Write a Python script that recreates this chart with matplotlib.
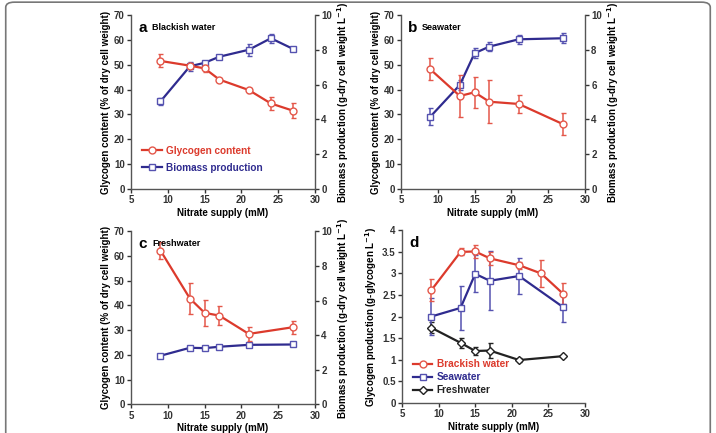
import numpy as np
import matplotlib
matplotlib.use("Agg")
import matplotlib.pyplot as plt
from matplotlib.patches import FancyBboxPatch
from matplotlib.lines import Line2D

plt.rcParams['font.family'] = ['Liberation Sans', 'DejaVu Sans']
plt.rcParams['font.weight'] = 'bold'
plt.rcParams['axes.labelweight'] = 'bold'

# panel a - brackish water
xa = [9, 13, 15, 17, 21, 24, 27]
gly_a = [51.5, 49.6, 48.5, 44.0, 39.8, 34.4, 31.5]
gly_a_err = [2.6, 1.0, 1.3, 0.5, 1.0, 2.8, 3.0]
bio_a = [5.03, 7.05, 7.25, 7.6, 8.0, 8.66, 8.05]
bio_a_err = [0.2, 0.25, 0.1, 0.1, 0.35, 0.27, 0.05]

# panel b - seawater
xb = [9, 13, 15, 17, 21, 27]
gly_b = [48.1, 37.4, 38.9, 35.1, 34.2, 26.1]
gly_b_err = [4.4, 8.5, 6.3, 8.7, 3.5, 4.5]
bio_b = [4.16, 5.98, 7.8, 8.18, 8.6, 8.66]
bio_b_err = [0.47, 0.3, 0.3, 0.25, 0.25, 0.3]

# panel c - freshwater
xc = [9, 13, 15, 17, 21, 27]
gly_c = [62.2, 42.8, 37.0, 35.9, 28.5, 31.2]
gly_c_err = [3.6, 6.2, 5.3, 3.7, 2.7, 2.7]
bio_c = [2.81, 3.27, 3.25, 3.33, 3.44, 3.46]
bio_c_err = [0.05, 0.12, 0.12, 0.12, 0.05, 0.05]

# panel d - glycogen production
xd_brack = [9, 13, 15, 17, 21, 24, 27]
prod_brack = [2.61, 3.5, 3.51, 3.35, 3.19, 3.0, 2.53]
prod_brack_err = [0.25, 0.08, 0.16, 0.15, 0.08, 0.31, 0.25]
xd_sea = [9, 13, 15, 17, 21, 27]
prod_sea = [2.0, 2.2, 2.99, 2.83, 2.94, 2.22]
prod_sea_err = [0.42, 0.51, 0.43, 0.68, 0.41, 0.34]
xd_fresh = [9, 13, 15, 17, 21, 27]
prod_fresh = [1.74, 1.39, 1.2, 1.21, 0.99, 1.08]
prod_fresh_err = [0.13, 0.12, 0.1, 0.17, 0.04, 0.02]

RED = '#dc3a2c'
RED_E = '#e4574a'
BLUE = '#2f2b8f'
BLUE_E = '#5552b0'
BLACK = '#222222'
SPINE = '#555555'
TFS = 7

fig = plt.figure(figsize=(7.16, 4.33), dpi=100)

# frame line at top of figure
frame = FancyBboxPatch((0.008, -0.2), 0.984, 1.195, boxstyle="round,pad=0,rounding_size=0.012",
                       transform=fig.transFigure, fill=False, edgecolor='#777777', linewidth=1.2)
fig.patches.append(frame)


def style_ax(ax, right=False):
    ax.spines['top'].set_visible(False)
    if not right:
        ax.spines['right'].set_visible(False)
    for s in ['left', 'bottom', 'right']:
        ax.spines[s].set_color(SPINE)
        ax.spines[s].set_linewidth(1.0)
    ax.tick_params(direction='out', length=3, width=1, colors='#333333', labelsize=TFS, pad=1.5)
    for lab in ax.get_xticklabels() + ax.get_yticklabels():
        lab.set_fontweight('bold')


def series(ax, x, y, err, color, marker, ecolor=None, ms=5):
    ax.errorbar(x, y, yerr=err, color=color, ecolor=ecolor or color, elinewidth=1.1, capsize=1.8,
                capthick=1.1, marker=marker, markersize=ms, markerfacecolor='white',
                markeredgecolor=ecolor or color, markeredgewidth=1.0, linewidth=1.6,
                clip_on=False, zorder=3)


def handle(color, marker, ecolor=None, ms=5):
    return Line2D([], [], color=color, marker=marker, markersize=ms, markerfacecolor='white',
                  markeredgecolor=ecolor or color, markeredgewidth=1.0, linewidth=1.6)


def content_panel(rect, x, gly, gly_err, bio, bio_err, letter, name, legend=False):
    ax = fig.add_axes(rect)
    ax2 = ax.twinx()
    ax.set_zorder(ax2.get_zorder() + 1)
    ax.patch.set_visible(False)
    series(ax2, x, bio, bio_err, BLUE, 's', ecolor=BLUE_E)
    series(ax, x, gly, gly_err, RED, 'o', ecolor=RED_E)
    ax.set_xlim(5, 30)
    ax.set_ylim(0, 70)
    ax2.set_ylim(0, 10)
    ax.set_xticks([5, 10, 15, 20, 25, 30])
    ax.set_yticks(range(0, 71, 10))
    ax2.set_yticks(range(0, 11, 2))
    ax.set_xlabel('Nitrate supply (mM)', fontsize=TFS, labelpad=2)
    ax.set_ylabel('Glycogen content (% of dry cell weight)', fontsize=TFS, labelpad=2)
    ax2.set_ylabel('Biomass production (g-dry cell weight L$^{\\mathbf{-1}}$)', fontsize=TFS, labelpad=2)
    style_ax(ax)
    style_ax(ax2, right=True)
    ax2.spines['left'].set_visible(False)
    ax2.spines['bottom'].set_visible(False)
    ax.text(0.04, 0.965, letter, transform=ax.transAxes, fontsize=11, fontweight='bold', va='top')
    ax.text(0.115, 0.955, name, transform=ax.transAxes, fontsize=6.5, fontweight='bold', va='top')
    if legend:
        hs = [handle(RED, 'o', RED_E), handle(BLUE, 's', BLUE_E)]
        leg = ax.legend(hs, ['Glycogen content', 'Biomass production'], loc='lower left',
                        bbox_to_anchor=(0.04, 0.07), frameon=False, fontsize=7.2,
                        handlelength=2.0, handletextpad=0.4, labelspacing=0.7, borderaxespad=0)
        for t, c in zip(leg.get_texts(), [RED, BLUE]):
            t.set_color(c)
    return ax


content_panel([0.183, 0.5635, 0.257, 0.402], xa, gly_a, gly_a_err, bio_a, bio_a_err,
              'a', 'Blackish water', legend=True)
content_panel([0.560, 0.5635, 0.257, 0.402], xb, gly_b, gly_b_err, bio_b, bio_b_err,
              'b', 'Seawater')
content_panel([0.183, 0.066, 0.257, 0.400], xc, gly_c, gly_c_err, bio_c, bio_c_err,
              'c', 'Freshwater')

# panel d
axd = fig.add_axes([0.5615, 0.070, 0.2555, 0.398])
series(axd, xd_fresh, prod_fresh, prod_fresh_err, BLACK, 'D', ms=4.5)
series(axd, xd_sea, prod_sea, prod_sea_err, BLUE, 's', ecolor=BLUE_E)
series(axd, xd_brack, prod_brack, prod_brack_err, RED, 'o', ecolor=RED_E)
axd.set_xlim(5, 30)
axd.set_ylim(0, 4)
axd.set_xticks([5, 10, 15, 20, 25, 30])
yt = [0, 0.5, 1, 1.5, 2, 2.5, 3, 3.5, 4]
axd.set_yticks(yt)
axd.set_yticklabels(['0', '0.5', '1', '1.5', '2', '2.5', '3', '3.5', '4'])
axd.set_xlabel('Nitrate supply (mM)', fontsize=TFS, labelpad=2)
axd.set_ylabel('Glycogen production (g-glycogen L$^{\\mathbf{-1}}$)', fontsize=TFS, labelpad=2)
style_ax(axd)
axd.text(0.04, 0.965, 'd', transform=axd.transAxes, fontsize=11, fontweight='bold', va='top')
hs = [handle(RED, 'o', RED_E), handle(BLUE, 's', BLUE_E), handle(BLACK, 'D', ms=4.5)]
leg = axd.legend(hs, ['Brackish water', 'Seawater', 'Freshwater'], loc='lower left',
                 bbox_to_anchor=(0.04, 0.02), frameon=False, fontsize=7.3,
                 handlelength=1.8, handletextpad=0.5, labelspacing=0.3, borderaxespad=0)
for t, c in zip(leg.get_texts(), [RED, BLUE, BLACK]):
    t.set_color(c)

fig.savefig('out.png', dpi=100)
